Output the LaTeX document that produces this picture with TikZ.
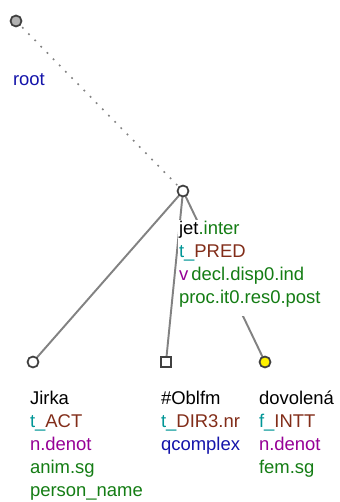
\documentclass[tikz,border=0pt]{standalone}
\usepackage{fontspec}
\setmainfont{Liberation Sans}
\usetikzlibrary{backgrounds}
\definecolor{functeal}{RGB}{0,150,150}
\definecolor{funcbrown}{RGB}{130,45,25}
\definecolor{semgreen}{RGB}{20,125,20}
\definecolor{sempurple}{RGB}{150,0,150}
\definecolor{rootblue}{RGB}{20,20,170}
\definecolor{edgegray}{RGB}{130,130,130}

\begin{document}
\begin{tikzpicture}[x=0.02cm, y=-0.02cm,
  every node/.style={font=\fontsize{10.5}{13}\selectfont},
  tnode/.style={circle, draw=black!75, line width=1pt, fill=white, inner sep=0pt, minimum size=0.22cm},
  lbl/.style={anchor=base west, align=left, fill=white, inner sep=0.4pt},
  tedge/.style={draw=edgegray, line width=1.1pt}]
  \useasboundingbox (0,0) rectangle (339,502);
  % tree nodes
  \node[tnode, fill=black!30] (root) at (16,21) {};
  \node[tnode] (jet) at (183,191) {};
  \node[tnode] (jirka) at (33,362) {};
  \node[tnode, rectangle, minimum size=0.2cm] (oblfm) at (166,362) {};
  \node[tnode, fill=yellow] (dovolena) at (265,362) {};
  % labels (anchored at the baseline of the last line)
  \node[lbl] (root-lbl) at (12,86) {\textcolor{rootblue}{root}};
  \node[lbl] (jet-lbl) at (178,303) {jet\textcolor{semgreen}{.inter}\\
    \textcolor{functeal}{t\_}\textcolor{funcbrown}{PRED}\\
    \textcolor{sempurple}{v}\,\textcolor{semgreen}{decl.disp0.ind}\\
    \textcolor{semgreen}{proc.it0.res0.post}\rule[-7pt]{0pt}{7pt}};
  \node[lbl] (jirka-lbl) at (29,496) {Jirka\\
    \textcolor{functeal}{t\_}\textcolor{funcbrown}{ACT}\\
    \textcolor{sempurple}{n.denot}\\
    \textcolor{semgreen}{anim.sg}\\
    \textcolor{semgreen}{person\_name}};
  \node[lbl] (oblfm-lbl) at (160,450) {\#Oblfm\\
    \textcolor{functeal}{t\_}\textcolor{funcbrown}{DIR3.nr}\\
    \textcolor{rootblue}{qcomplex}};
  \node[lbl] (dovolena-lbl) at (258,473) {dovolená\\
    \textcolor{functeal}{f\_}\textcolor{funcbrown}{INTT}\\
    \textcolor{sempurple}{n.denot}\\
    \textcolor{semgreen}{fem.sg}};
  % edges
  \begin{scope}[on background layer]
  \draw[edgegray, line width=0.9pt, dash pattern=on 1pt off 4pt] (root.center) -- (jet.center);
  \draw[tedge] (jet.center) -- (jirka.center);
  \draw[tedge] (jet.center) -- (oblfm.center);
  \draw[tedge] (jet.center) -- (dovolena.center);
  \end{scope}
\end{tikzpicture}
\end{document}
